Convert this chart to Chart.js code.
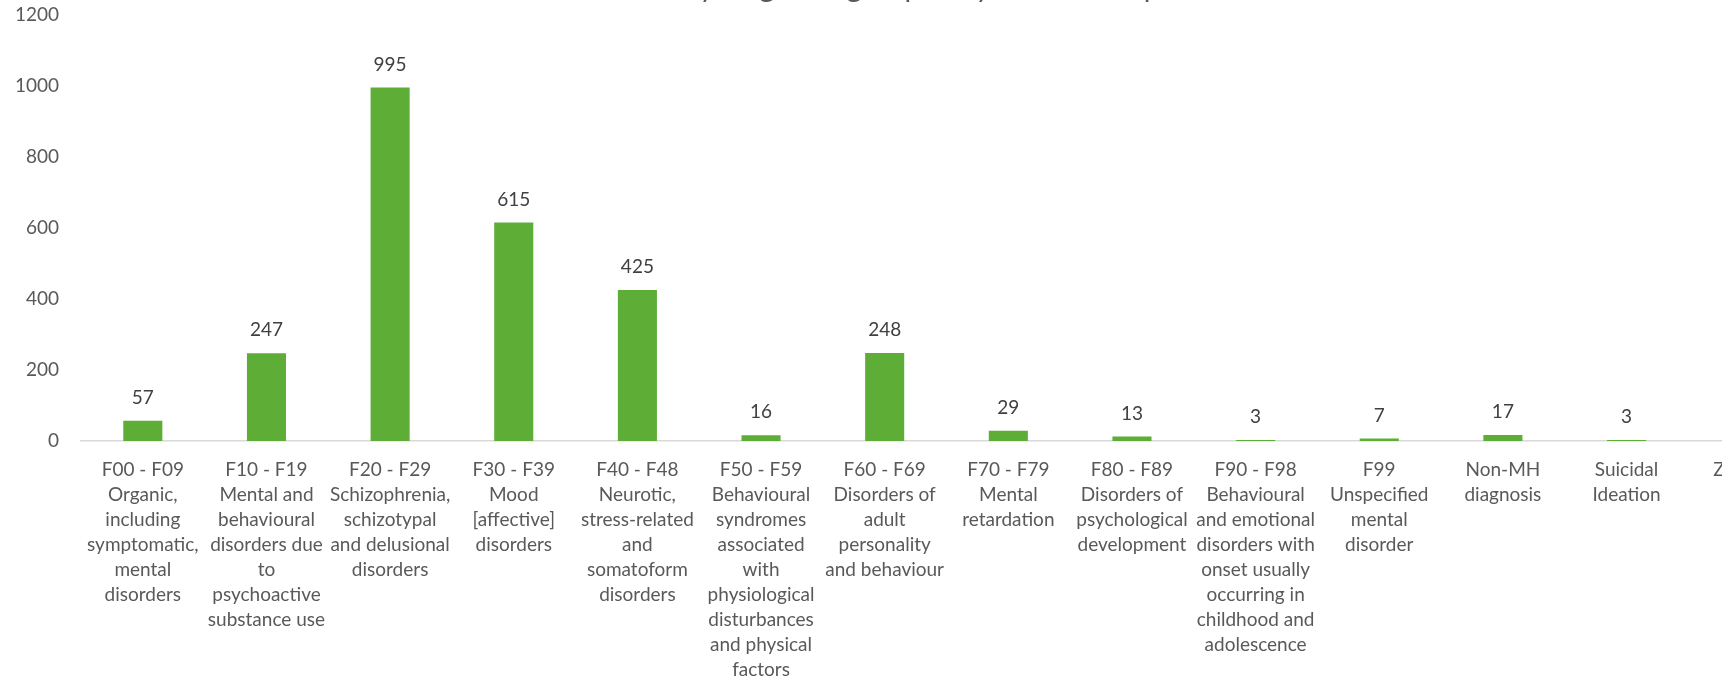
<!DOCTYPE html>
<html>
<head>
<meta charset="utf-8">
<script src="https://cdn.jsdelivr.net/npm/chart.js@4/dist/chart.umd.min.js"></script>
<style>
    html, body { margin: 0; padding: 0; background: #ffffff; overflow: hidden; width: 1722px; height: 681px; }
    #wrap { position: absolute; left: 0; top: -30px; width: 1822px; height: 720px; }
</style>
</head>
<body>
<div id="wrap"><canvas id="myChart" width="1822" height="720"></canvas></div>
<script>
// categorias del eje x (una linea por elemento)
var categories = [
    ["F00 - F09", "Organic,", "including", "symptomatic,", "mental", "disorders"],
    ["F10 - F19", "Mental and", "behavioural", "disorders due", "to", "psychoactive", "substance use"],
    ["F20 - F29", "Schizophrenia,", "schizotypal", "and delusional", "disorders"],
    ["F30 - F39", "Mood", "[affective]", "disorders"],
    ["F40 - F48", "Neurotic,", "stress-related", "and", "somatoform", "disorders"],
    ["F50 - F59", "Behavioural", "syndromes", "associated", "with", "physiological", "disturbances", "and physical", "factors"],
    ["F60 - F69", "Disorders of", "adult", "personality", "and behaviour"],
    ["F70 - F79", "Mental", "retardation"],
    ["F80 - F89", "Disorders of", "psychological", "development"],
    ["F90 - F98", "Behavioural", "and emotional", "disorders with", "onset usually", "occurring in", "childhood and", "adolescence"],
    ["F99", "Unspecified", "mental", "disorder"],
    ["Non-MH", "diagnosis"],
    ["Suicidal", "Ideation"],
    ["Z00-Z99"]
];

// valores (el ultimo queda fuera de la imagen)
var counts = [57, 247, 995, 615, 425, 16, 248, 29, 13, 3, 7, 17, 3, null];

var yTicks = [0, 200, 400, 600, 800, 1000, 1200];

var chartTitle = "Primary diagnosis grouped by ICD-10 chapter";

let myChart;

// etiquetas de valor encima de cada barra
const valueLabels = {
    id: "valueLabels",
    afterDatasetsDraw(chart) {
        const ctx = chart.ctx;
        const meta = chart.getDatasetMeta(0);
        ctx.save();
        ctx.font = "19px Lato";
        ctx.fillStyle = "#404040";
        ctx.textAlign = "center";
        ctx.textBaseline = "middle";
        meta.data.forEach((bar, i) => {
            if (counts[i] === null) return;
            ctx.fillText(counts[i], bar.x, bar.y - 23);
        });
        ctx.restore();
    }
};

const data = {
    labels: categories,
    datasets: [
        {
            label: "Count",
            data: counts,
            backgroundColor: "#5dad37",
            borderWidth: 0,
            categoryPercentage: 1,
            barPercentage: 0.316
        }
    ]
};

const config = {
    type: "bar",
    data: data,
    options: {
        responsive: false,
        animation: false,
        layout: {
            padding: { left: 0, right: 10, top: 0, bottom: 0 }
        },
        plugins: {
            legend: { display: false },
            tooltip: { enabled: false },
            title: {
                display: true,
                text: chartTitle,
                color: "#595959",
                font: { family: "Lato", size: 29, weight: "normal", lineHeight: 1.2 },
                padding: { top: 0, bottom: 10 }
            }
        },
        scales: {
            x: {
                grid: { display: false, drawTicks: false },
                border: { display: true, color: "#d9d9d9", width: 1.5 },
                ticks: {
                    autoSkip: false,
                    maxRotation: 0,
                    padding: 16,
                    color: "#595959",
                    font: { family: "Lato", size: 19, lineHeight: "25px" }
                },
                afterFit: (scale) => { scale.height = 249; }
            },
            y: {
                min: 0,
                max: 1200,
                grid: { display: false, drawTicks: false },
                border: { display: false },
                afterBuildTicks: (scale) => {
                    scale.ticks = yTicks.map((v) => ({ value: v }));
                },
                ticks: {
                    padding: 22,
                    color: "#595959",
                    font: { family: "Lato", size: 19 },
                    callback: (value) => String(value)
                },
                afterFit: (scale) => { scale.width = 81; }
            }
        }
    },
    plugins: [valueLabels]
};

const ctx = document.getElementById("myChart").getContext("2d");
myChart = new Chart(ctx, config);
</script>
</body>
</html>
